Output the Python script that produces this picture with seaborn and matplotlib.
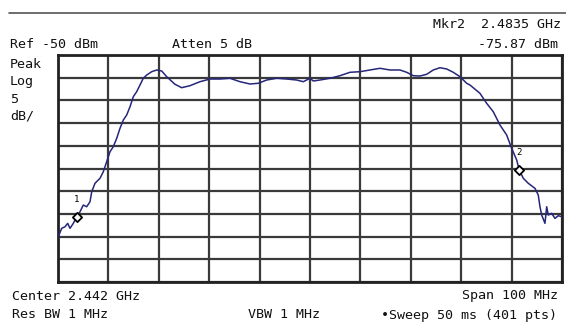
import numpy as np
import pandas as pd
import matplotlib
matplotlib.use("Agg")
import matplotlib.pyplot as plt
import seaborn as sns

# ---- data ----
freq_mhz = [2392.06, 2392.73, 2393.39, 2393.92, 2394.38, 2395.04, 2395.71, 2396.37,
            2397.02, 2397.69, 2398.35, 2398.69, 2399.34, 2400.33, 2400.99, 2401.66,
            2402.32, 2402.97, 2403.65, 2404.30, 2404.96, 2405.63, 2406.29, 2406.94,
            2407.61, 2408.27, 2408.92, 2409.60, 2410.59, 2411.58, 2412.57, 2413.57,
            2415.21, 2416.54, 2418.19, 2420.17, 2422.16, 2424.14, 2426.13, 2428.11,
            2430.10, 2431.74, 2433.41, 2435.39, 2437.37, 2439.36, 2440.67, 2442.00,
            2442.65, 2443.98, 2445.96, 2447.95, 2449.93, 2451.92, 2453.90, 2455.88,
            2457.87, 2459.85, 2461.18, 2462.49, 2463.82, 2465.15, 2466.46, 2467.79,
            2469.12, 2470.43, 2471.76, 2473.09, 2473.74, 2475.72, 2477.05, 2478.36,
            2479.69, 2481.02, 2482.01, 2483.01, 2483.50, 2484.32, 2485.31, 2486.64,
            2487.29, 2487.63, 2487.97, 2488.62, 2488.96, 2489.28, 2489.95, 2490.60,
            2491.26, 2492.00]
level_dbm = [-90.03, -88.18, -87.83, -87.08, -88.18, -87.08, -85.62, -84.52,
             -83.05, -83.42, -82.32, -80.12, -78.26, -77.16, -75.71, -73.50,
             -71.30, -70.20, -68.35, -66.15, -64.32, -63.22, -61.39, -59.19,
             -58.08, -56.61, -55.13, -54.41, -53.68, -53.30, -53.52, -54.78,
             -56.45, -57.20, -56.76, -55.88, -55.29, -55.29, -55.13, -55.88,
             -56.39, -56.23, -55.51, -55.13, -55.29, -55.51, -55.88, -55.13,
             -55.73, -55.51, -55.13, -54.56, -53.81, -53.68, -53.30, -52.93,
             -53.30, -53.30, -53.81, -54.56, -54.63, -54.25, -53.30, -52.80,
             -53.08, -53.81, -54.78, -56.23, -56.61, -58.44, -60.64, -62.49,
             -65.42, -67.62, -70.55, -73.13, -75.30, -77.16, -78.26, -79.37,
             -80.84, -83.42, -85.25, -87.08, -83.42, -85.25, -84.87, -85.98,
             -85.40, -85.62]
marker_labels = ["1", "2"]
marker_freq = [2395.71, 2483.50]
marker_level = [-85.62, -75.30]

ref_level = -50
db_per_div = 5
center_mhz = 2442
span_mhz = 100

header_left = ["Ref -50 dBm", "Atten 5 dB"]
header_right = ["Mkr2  2.4835 GHz", "-75.87 dBm"]
side_labels = ["Peak", "Log", "5", "dB/"]
footer = ["Center 2.442 GHz", "Span 100 MHz", "Res BW 1 MHz", "VBW 1 MHz",
          "\u2022Sweep 50 ms (401 pts)"]

# ---- figure ----
W, H = 566, 322
sns.set_style("white")
plt.rcParams["font.family"] = ["DejaVu Sans Mono"]
fig = plt.figure(figsize=(W / 100, H / 100), dpi=100)
fig.patch.set_facecolor("white")

L, R, T, B = 58, 562, 55, 282
ax = fig.add_axes([L / W, 1 - B / H, (R - L) / W, (B - T) / H])

df = pd.DataFrame({"f": freq_mhz, "lvl": level_dbm})
sns.lineplot(data=df, x="f", y="lvl", ax=ax, color="#26267a", lw=1.1,
             sort=False, zorder=3)

lo, hi = center_mhz - span_mhz / 2, center_mhz + span_mhz / 2
ax.set_xlim(lo, hi)
ax.set_ylim(ref_level - 10 * db_per_div, ref_level)
ax.set_xticks(np.linspace(lo, hi, 11))
ax.set_yticks(np.linspace(ref_level - 10 * db_per_div, ref_level, 11))
ax.set_xticklabels([])
ax.set_yticklabels([])
ax.tick_params(length=0)
ax.set_xlabel("")
ax.set_ylabel("")
ax.grid(True, color="#3a3a3a", lw=1.6)
ax.set_axisbelow(True)
for s in ax.spines.values():
    s.set_visible(True)
    s.set_color("#222222")
    s.set_linewidth(2)

# markers
ax.scatter(marker_freq, marker_level, marker="D", s=22, facecolor="white",
           edgecolor="black", linewidth=1.3, zorder=5)
for lab, fx, ly in zip(marker_labels, marker_freq, marker_level):
    ax.annotate(lab, (fx, ly), xytext=(0, 9), textcoords="offset points",
                ha="center", va="bottom", fontsize=6.5, color="black")

# text
fs = 9.6
def ftext(x, y, s, ha="left"):
    fig.text(x / W, 1 - y / H, s, ha=ha, va="center", fontsize=fs, color="#111111")

fig.add_artist(plt.Line2D([9 / W, 1], [1 - 13 / H, 1 - 13 / H], color="#555555", lw=1.2))
ftext(561, 24, header_right[0], "right")
ftext(558, 45, header_right[1], "right")
ftext(10, 44, header_left[0])
ftext(172, 44, header_left[1])
for s, y in zip(side_labels, [64, 82, 100, 116]):
    ftext(10, y, s)
ftext(12, 296, footer[0])
ftext(558, 296, footer[1], "right")
ftext(12, 315, footer[2])
ftext(248, 315, footer[3])
ftext(557, 315, footer[4], "right")

fig.savefig("out.png", dpi=100, facecolor="white")
